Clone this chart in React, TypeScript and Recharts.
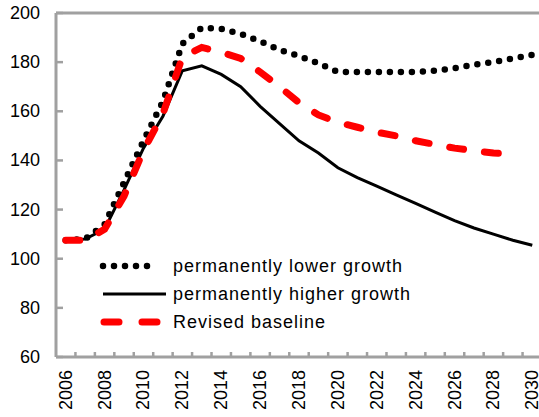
import React from "react";
import { LineChart, Line, XAxis, YAxis, ReferenceLine, Legend } from "recharts";

const years = [2006, 2007, 2008, 2009, 2010, 2011, 2012, 2013, 2014, 2015, 2016, 2017, 2018, 2019, 2020, 2021, 2022, 2023, 2024, 2025, 2026, 2027, 2028, 2029, 2030];
const lowerGrowth = [107.5, 108, 114, 131, 148, 164, 187.5, 194, 193.5, 191.5, 188.5, 185, 182.5, 179.5, 176, 176, 176, 176, 176, 176.5, 177.5, 179, 180, 181.5, 183];
const higherGrowth = [107.5, 108, 112, 128, 145, 158, 176.5, 178.5, 175, 170, 162, 155, 148, 143, 137, 133, 129.5, 126, 122.5, 119, 115.5, 112.5, 110, 107.5, 105.5];
const revisedBaseline = [107.5, 107.5, 112, 125.5, 144, 159, 182, 186, 184, 181.5, 176, 170, 163.5, 158.5, 155.5, 153.5, 151.5, 150, 148, 146.5, 145, 144, 143, 142.5, null];
const yTicks = [60, 80, 100, 120, 140, 160, 180, 200];
const xTicks = [2006, 2008, 2010, 2012, 2014, 2016, 2018, 2020, 2022, 2024, 2026, 2028, 2030];
const seriesKeys = ["lower", "higher", "revised"];
const seriesNames = ["permanently lower growth", "permanently higher growth", "Revised baseline"];

const data = years.map((y, i) => ({
  year: y,
  lower: lowerGrowth[i],
  higher: higherGrowth[i],
  revised: revisedBaseline[i],
}));

const CHART_W = 542;
const CHART_H = 417;
const Y_W = 56;
const X_H = 60;
const HALF_BAND = (CHART_W - Y_W) / years.length / 2;
const AXIS_COLOR = "#a0a0a0";
const FONT = "'Liberation Sans', Arial, sans-serif";

const YTick = (props: any) => {
  const { x, y, payload } = props;
  return (
    <g>
      <line x1={x} x2={x + 7} y1={y} y2={y} stroke={AXIS_COLOR} strokeWidth={2.5} />
      <text x={x - 16} y={y} textAnchor="end" dominantBaseline="central" fontSize={18} fill="#000" fontFamily={FONT}>
        {payload.value}
      </text>
    </g>
  );
};

const XTick = (props: any) => {
  const { x, y, payload } = props;
  return (
    <g>
      {payload.value !== years[0] && (
        <line x1={x - HALF_BAND} x2={x - HALF_BAND} y1={y - 5} y2={y} stroke={AXIS_COLOR} strokeWidth={2.5} />
      )}
      <line x1={x + HALF_BAND} x2={x + HALF_BAND} y1={y - 5} y2={y} stroke={AXIS_COLOR} strokeWidth={2.5} />
      <text
        transform={`translate(${x}, ${y + 13}) rotate(-90)`}
        textAnchor="end"
        dominantBaseline="central"
        fontSize={18}
        fill="#000"
        fontFamily={FONT}
      >
        {payload.value}
      </text>
    </g>
  );
};

const LegendContent = (props: any) => {
  const payload = [...(props.payload || [])].sort(
    (a: any, b: any) => seriesKeys.indexOf(a.dataKey) - seriesKeys.indexOf(b.dataKey)
  );
  return (
    <svg width={330} height={90} style={{ display: "block", overflow: "visible" }}>
      {payload.map((entry: any, i: number) => {
        const cy = 14 + i * 28;
        let icon: React.ReactNode = null;
        if (entry.dataKey === "lower") {
          icon = <line x1={5} x2={60} y1={cy} y2={cy} stroke="#000" strokeWidth={6.5} strokeLinecap="round" strokeDasharray="0 11" />;
        } else if (entry.dataKey === "higher") {
          icon = <line x1={5} x2={68} y1={cy} y2={cy} stroke="#000" strokeWidth={3} />;
        } else {
          icon = <line x1={6} x2={64} y1={cy} y2={cy} stroke="#ff0000" strokeWidth={7} strokeLinecap="round" strokeDasharray="15 23" />;
        }
        return (
          <g key={entry.dataKey}>
            {icon}
            <text x={75} y={cy} dominantBaseline="central" fontSize={18} letterSpacing={1} fill="#000" fontFamily={FONT}>
              {entry.value}
            </text>
          </g>
        );
      })}
    </svg>
  );
};

export default function App() {
  return (
    <div style={{ position: "absolute", left: 0, top: 0, width: 539, height: 417, overflow: "hidden", background: "#fff" }}>
      <LineChart
        width={CHART_W}
        height={CHART_H}
        data={data}
        margin={{ top: 13, right: 0, left: 0, bottom: 0 }}
        style={{ fontFamily: FONT }}
      >
        <XAxis
          dataKey="year"
          type="number"
          domain={[years[0] - 0.5, years[years.length - 1] + 0.5]}
          ticks={xTicks}
          interval={0}
          height={X_H}
          tickSize={0}
          tickMargin={0}
          tickLine={false}
          axisLine={{ stroke: AXIS_COLOR, strokeWidth: 3 }}
          tick={<XTick />}
        />
        <YAxis
          domain={[60, 200]}
          ticks={yTicks}
          interval={0}
          width={Y_W}
          tickSize={0}
          tickMargin={0}
          tickLine={false}
          axisLine={{ stroke: AXIS_COLOR, strokeWidth: 3 }}
          tick={<YTick />}
        />
        <ReferenceLine y={200} stroke={AXIS_COLOR} strokeWidth={3} />
        <Legend
          layout="vertical"
          align="center"
          verticalAlign="middle"
          wrapperStyle={{ left: 98, top: 252, width: 330 }}
          content={<LegendContent />}
        />
        <Line
          name={seriesNames[0]}
          dataKey={seriesKeys[0]}
          stroke="#000"
          strokeWidth={6.5}
          strokeLinecap="round"
          strokeDasharray="0 11"
          dot={false}
          activeDot={false}
          isAnimationActive={false}
        />
        <Line
          name={seriesNames[1]}
          dataKey={seriesKeys[1]}
          stroke="#000"
          strokeWidth={3}
          dot={false}
          activeDot={false}
          isAnimationActive={false}
        />
        <Line
          name={seriesNames[2]}
          dataKey={seriesKeys[2]}
          stroke="#ff0000"
          strokeWidth={7}
          strokeLinecap="round"
          strokeDasharray="14 21"
          dot={false}
          activeDot={false}
          isAnimationActive={false}
        />
      </LineChart>
    </div>
  );
}
